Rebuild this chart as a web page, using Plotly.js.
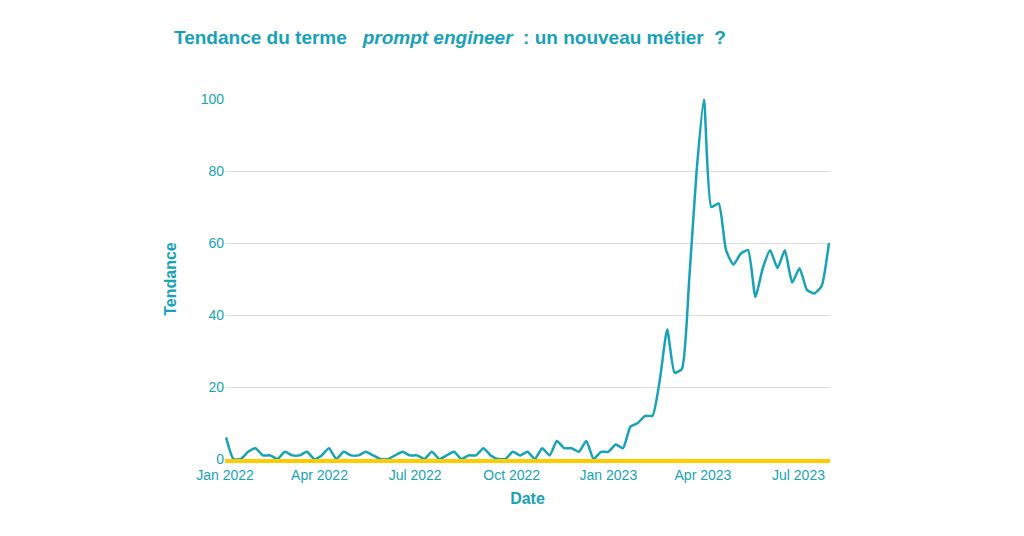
<!DOCTYPE html>
<html>
<head>
<meta charset="utf-8">
<script src="https://cdn.plot.ly/plotly-3.0.1.min.js"></script>
<style>html,body{margin:0;padding:0;background:#fff;}#chart{width:1024px;height:536px;}</style>
</head>
<body>
<div id="chart"></div>
<script>
// Weekly Google Trends interest, starting Sunday 2022-01-02
const startDate = '2022-01-02';
const trendValues = [6,0,0,2,3,1,1,0,2,1,1,2,0,1,3,0,2,1,1,2,1,0,0,1,2,1,1,0,2,0,1,2,0,1,1,3,1,0,0,2,1,2,0,3,1,5,3,3,2,5,0,2,2,4,3,9,10,12,12,22,36,24,25,50,80,100,70,71,58,54,57,58,45,53,58,53,58,49,53,47,46,48,60];
const yTicks = [0,20,40,60,80,100];
const xRange = ['2022-01-01', '2023-07-31'];

const dates = trendValues.map((_, i) => {
  const d = new Date(startDate + 'T00:00:00Z');
  d.setUTCDate(d.getUTCDate() + 7 * i);
  return d.toISOString().slice(0, 10);
});

const teal = '#17a2b8';
const font = 'Liberation Sans, Arial, sans-serif';

const data = [{
  x: dates,
  y: trendValues,
  type: 'scatter',
  mode: 'lines',
  line: {color: teal, width: 2.5, shape: 'spline', smoothing: 0.5},
  hoverinfo: 'x+y'
}];

const layout = {
  width: 1024,
  height: 536,
  margin: {l: 225, r: 194, t: 99, b: 77},
  paper_bgcolor: '#fff',
  plot_bgcolor: '#fff',
  font: {family: font, color: teal, size: 14},
  showlegend: false,
  title: {
    text: '<b>Tendance du terme &nbsp; <i>prompt engineer</i>&nbsp; : un nouveau métier &nbsp;?</b>',
    font: {family: font, size: 19, color: teal},
    x: 174 / 1024,
    xanchor: 'left',
    xref: 'container',
    y: 1 - 37 / 536,
    yanchor: 'middle'
  },
  xaxis: {
    title: {text: '<b>Date</b>', font: {family: font, size: 16, color: teal}, standoff: 12},
    range: xRange,
    showgrid: false,
    zeroline: false,
    showline: true,
    linecolor: '#ffcc00',
    linewidth: 4,
    ticks: '',
    tickfont: {family: font, size: 14, color: teal},
    dtick: 'M3',
    tick0: '2022-01-01',
    tickformat: '%b %Y'
  },
  yaxis: {
    title: {text: '<b>Tendance</b>', font: {family: font, size: 16, color: teal}, standoff: 20},
    range: [0, 100],
    tickvals: yTicks,
    showgrid: true,
    gridcolor: '#dddddd',
    gridwidth: 1,
    zeroline: false,
    showline: false,
    tickfont: {family: font, size: 14, color: teal}
  }
};

Plotly.newPlot('chart', data, layout, {displayModeBar: false, staticPlot: true});
</script>
</body>
</html>
